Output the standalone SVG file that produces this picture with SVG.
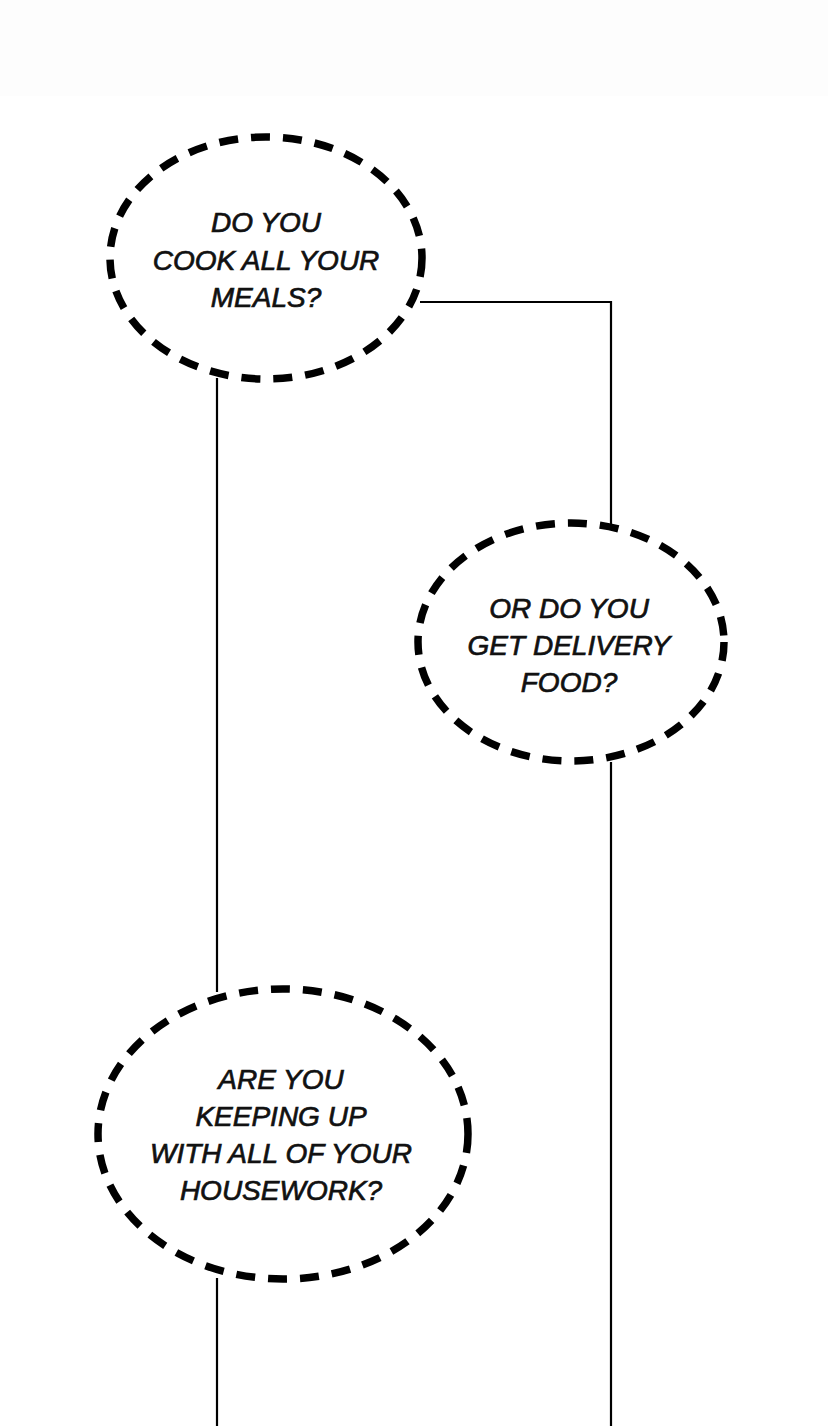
<svg xmlns="http://www.w3.org/2000/svg" width="828" height="1426" viewBox="0 0 828 1426">
  <style>
    .bubble { fill: #ffffff; stroke: #000000; stroke-width: 7.5; stroke-dasharray: 19 13; }
    .conn { fill: none; stroke: #000000; stroke-width: 2.2; }
    .lbl { font-family: "Liberation Sans", Arial, sans-serif; font-style: italic; font-size: 28px; fill: #111111; stroke: #111111; stroke-width: 0.7; text-anchor: middle; }
  </style>
  <rect x="0" y="0" width="828" height="1426" fill="#ffffff"/>
  <rect x="0" y="0" width="828" height="96" fill="#fdfdfd"/>
  <g id="connectors">
    <path class="conn" d="M217 378 V992"/>
    <path class="conn" d="M420 302 H611 V524"/>
    <path class="conn" d="M611 762 V1426"/>
    <path class="conn" d="M217 1278 V1426"/>
  </g>
  <g id="node-cook">
    <ellipse class="bubble" cx="266" cy="258" rx="156" ry="121"/>
    <text class="lbl" x="266" y="232">DO YOU</text>
    <text class="lbl" x="266" y="270">COOK ALL YOUR</text>
    <text class="lbl" x="266" y="307">MEALS?</text>
  </g>
  <g id="node-delivery">
    <ellipse class="bubble" cx="571" cy="642" rx="153" ry="119"/>
    <text class="lbl" x="569" y="618">OR DO YOU</text>
    <text class="lbl" x="569" y="655">GET DELIVERY</text>
    <text class="lbl" x="569" y="692">FOOD?</text>
  </g>
  <g id="node-housework">
    <ellipse class="bubble" cx="283" cy="1134" rx="185" ry="145"/>
    <text class="lbl" x="281" y="1089">ARE YOU</text>
    <text class="lbl" x="281" y="1126">KEEPING UP</text>
    <text class="lbl" x="281" y="1163">WITH ALL OF YOUR</text>
    <text class="lbl" x="281" y="1200">HOUSEWORK?</text>
  </g>
</svg>
